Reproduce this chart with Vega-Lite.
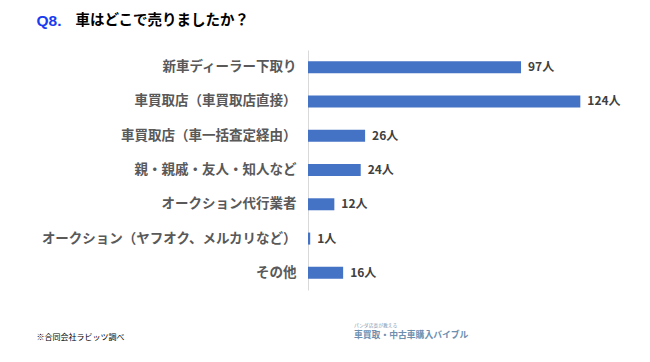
{
  "$schema": "https://vega.github.io/schema/vega-lite/v6.json",
  "width": 300,
  "height": 240,
  "autosize": {"type": "none"},
  "padding": {"left": 308, "top": 50, "right": 42, "bottom": 72},
  "background": "white",
  "config": {"view": {"stroke": null}, "font": "Noto Sans CJK JP"},
  "title": {
    "text": "パンダ店長が教える",
    "subtitle": "車買取・中古車購入バイブル",
    "orient": "bottom",
    "anchor": "start",
    "frame": "group",
    "dx": 46,
    "dy": -23,
    "fontSize": 4.8,
    "fontWeight": "normal",
    "color": "#7f9bb5",
    "subtitleFontSize": 8.8,
    "subtitleFontWeight": "bold",
    "subtitleColor": "#6d8fb0",
    "subtitlePadding": 3
  },
  "data": {
    "values": [
      {"category": "新車ディーラー下取り", "count": 97},
      {"category": "車買取店（車買取店直接）", "count": 124},
      {"category": "車買取店（車一括査定経由）", "count": 26},
      {"category": "親・親戚・友人・知人など", "count": 24},
      {"category": "オークション代行業者", "count": 12},
      {"category": "オークション（ヤフオク、メルカリなど）", "count": 1},
      {"category": "その他", "count": 16}
    ]
  },
  "transform": [{"calculate": "datum.count + '人'", "as": "label"}],
  "encoding": {
    "y": {
      "field": "category",
      "type": "nominal",
      "sort": null,
      "scale": {"paddingInner": 0, "paddingOuter": 0},
      "axis": {
        "title": "Q8.",
        "titleAngle": 0,
        "titleX": -272,
        "titleY": -30,
        "titleAlign": "left",
        "titleBaseline": "middle",
        "titleColor": "#1a3cf0",
        "titleFontSize": 15.5,
        "titleFontWeight": "bold",
        "titleFont": "Liberation Sans",
        "labelFontSize": 13.5,
        "labelColor": "#595959",
        "labelFontWeight": "bold",
        "labelPadding": 12,
        "labelLimit": 400,
        "ticks": false,
        "domainColor": "#d9d9d9",
        "grid": false
      }
    }
  },
  "layer": [
    {
      "mark": {"type": "bar", "color": "#4472C4", "size": 12},
      "encoding": {
        "x": {
          "field": "count",
          "type": "quantitative",
          "scale": {"domain": [0, 136.6], "nice": false},
          "axis": {
            "orient": "bottom",
            "title": "※合同会社ラビッツ調べ",
            "titleX": -272,
            "titleY": 47.7,
            "titleAlign": "left",
            "titleBaseline": "middle",
            "titleFontSize": 8,
            "titleFontWeight": "normal",
            "titleColor": "#000000",
            "labels": false,
            "ticks": false,
            "domain": false,
            "grid": false
          }
        }
      }
    },
    {
      "mark": {"type": "text", "align": "left", "baseline": "middle", "dx": 7, "fontWeight": "bold", "fontSize": 12, "color": "#404040"},
      "encoding": {
        "x": {
          "field": "count",
          "type": "quantitative",
          "axis": {
            "orient": "top",
            "title": "車はどこで売りましたか？",
            "titleX": -233,
            "titleY": -30,
            "titleAlign": "left",
            "titleBaseline": "middle",
            "titleFontSize": 14.5,
            "titleFontWeight": "bold",
            "titleColor": "#000000",
            "labels": false,
            "ticks": false,
            "domain": false,
            "grid": false
          }
        },
        "text": {"field": "label"}
      }
    }
  ],
  "resolve": {"axis": {"x": "independent"}}
}
